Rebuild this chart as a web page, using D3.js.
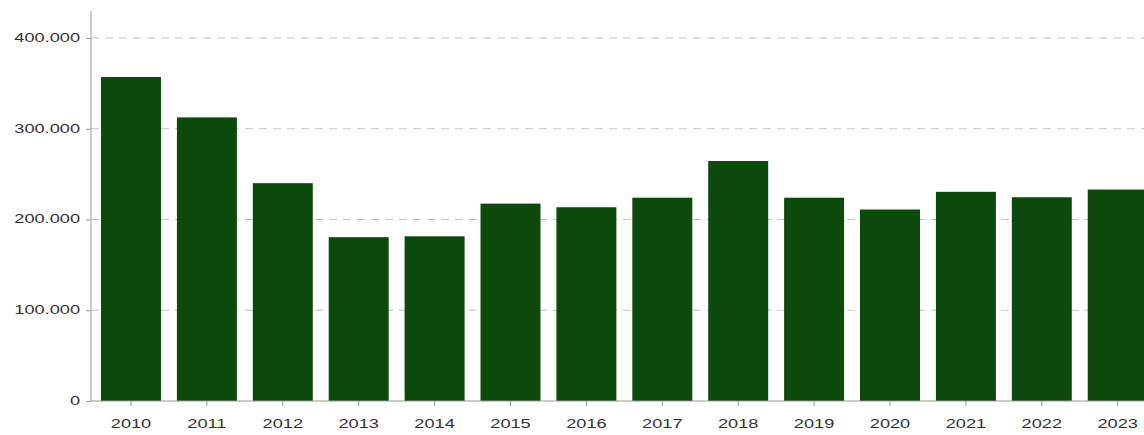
<!DOCTYPE html>
<html><head><meta charset="utf-8">
<script src="https://cdn.jsdelivr.net/npm/d3@7"></script>
<style>
body{margin:0;background:#fff;}
svg{display:block;font-family:"Liberation Sans",Arial,sans-serif;}
</style></head>
<body>
<svg id="chart" width="1144" height="435"></svg>
<script>
const years = ["2010","2011","2012","2013","2014","2015","2016","2017","2018","2019","2020","2021","2022","2023"];
const values = [357000,312500,240000,180500,181500,217500,213500,224000,264500,224000,211000,230500,224500,233000];
const yTicks = [0,100000,200000,300000,400000];

const svg = d3.select("#chart");
const mLeft = 91, mBottom = 401, mTop = 11;
const stretch = 1.4;
const y = d3.scaleLinear().domain([0,400000]).range([mBottom, 38]);
const x = d3.scaleBand().domain(years).range([mLeft, 1157.7]).paddingInner(0.21).paddingOuter(0.132);

const fmt = v => d3.format(",")(v).replace(/,/g, ".");

// grid
svg.append("g").selectAll("line").data(yTicks.filter(d=>d>0)).join("line")
  .attr("x1", mLeft).attr("x2", 1144)
  .attr("y1", d=>y(d)).attr("y2", d=>y(d))
  .attr("stroke", "#c4c4c4").attr("stroke-width", 1)
  .attr("stroke-dasharray", "8,6");

// bars
svg.append("g").selectAll("rect").data(years).join("rect")
  .attr("x", d=>x(d)).attr("width", x.bandwidth())
  .attr("y", (d,i)=>y(values[i])).attr("height", (d,i)=>mBottom - y(values[i]))
  .attr("fill", "#0b4a0b");

// y axis
const yAxis = svg.append("g").attr("transform", `translate(${mLeft},0)`)
  .call(d3.axisLeft(y).tickValues(yTicks).tickFormat(fmt).tickSizeOuter(0).tickSize(5).tickPadding(6));
yAxis.select(".domain").attr("d", `M0,${mTop}V${mBottom}`).attr("stroke", "#999");
yAxis.selectAll(".tick line").attr("stroke", "#999");
yAxis.selectAll("text").attr("fill", "#333").attr("font-size", 13)
  .attr("x", 0).attr("dy", "0.25em")
  .attr("transform", `translate(-11,0) scale(${stretch},1)`);

// x axis
const xAxis = svg.append("g").attr("transform", `translate(0,${mBottom})`)
  .call(d3.axisBottom(x).tickSize(5).tickSizeOuter(0).tickPadding(13));
xAxis.select(".domain").attr("d", `M${mLeft},0H1144`).attr("stroke", "#999");
xAxis.selectAll(".tick line").attr("stroke", "#999");
xAxis.selectAll("text").attr("fill", "#333").attr("font-size", 13)
  .attr("transform", `scale(${stretch},1)`);
</script>
</body></html>
